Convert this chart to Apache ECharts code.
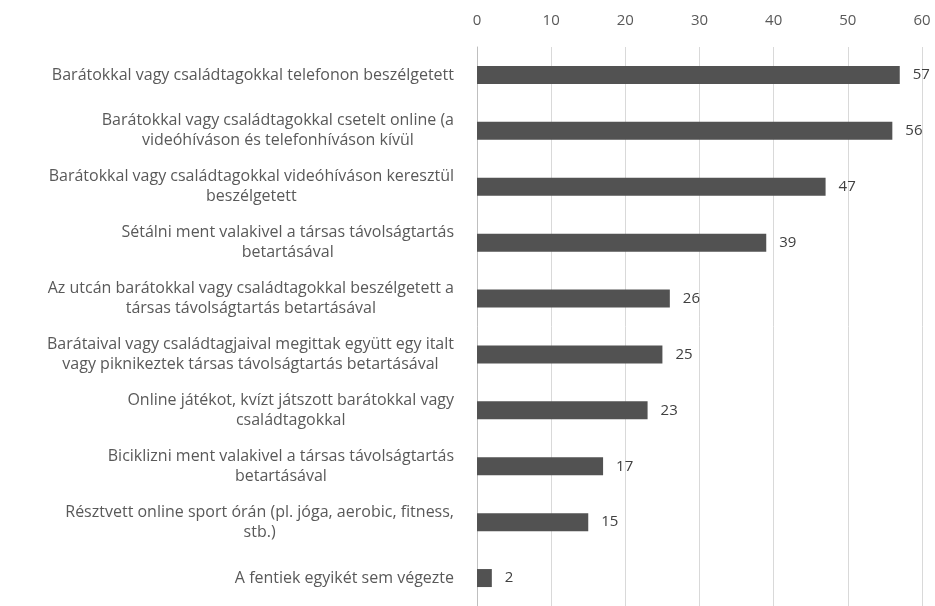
<!DOCTYPE html>
<html>
<head>
<meta charset="utf-8">
<script src="https://cdn.jsdelivr.net/npm/echarts@6/dist/echarts.min.js"></script>
<style>
html,body{margin:0;padding:0;background:#fff;}
#main{width:935px;height:606px;}
</style>
</head>
<body>
<div id="main"></div>
<script>
const categories = [
  "Barátokkal vagy családtagokkal telefonon beszélgetett",
  "Barátokkal vagy családtagokkal csetelt online (a\nvideóhíváson és telefonhíváson kívül",
  "Barátokkal vagy családtagokkal videóhíváson keresztül\nbeszélgetett",
  "Sétálni ment valakivel a társas távolságtartás\nbetartásával",
  "Az utcán barátokkal vagy családtagokkal beszélgetett a\ntársas távolságtartás betartásával",
  "Barátaival vagy családtagjaival megittak együtt egy italt\nvagy piknikeztek társas távolságtartás betartásával",
  "Online játékot, kvízt játszott barátokkal vagy\ncsaládtagokkal",
  "Biciklizni ment valakivel a társas távolságtartás\nbetartásával",
  "Résztvett online sport órán (pl. jóga, aerobic, fitness,\nstb.)",
  "A fentiek egyikét sem végezte"
];
const values = [57, 56, 47, 39, 26, 25, 23, 17, 15, 2];
const xTicks = [0, 10, 20, 30, 40, 50, 60];

const chart = echarts.init(document.getElementById('main'), null, {renderer: 'canvas'});
const font = "'Open Sans', 'Liberation Sans', sans-serif";
chart.setOption({
  animation: false,
  backgroundColor: '#fff',
  grid: {left: 477, top: 47, width: 445, height: 562, containLabel: false},
  xAxis: {
    type: 'value', position: 'top',
    min: xTicks[0], max: xTicks[xTicks.length - 1], interval: 10,
    axisLine: {show: false}, axisTick: {show: false},
    splitLine: {show: true, lineStyle: {color: '#d9d9d9', width: 1}},
    axisLabel: {color: '#595959', fontSize: 15, fontFamily: font, margin: 19}
  },
  yAxis: {
    type: 'category', data: categories, inverse: true,
    axisLine: {show: true, lineStyle: {color: '#bfbfbf', width: 1}},
    axisTick: {show: false},
    axisLabel: {
      margin: 23, align: 'right',
      formatter: function (v) {
        return v.split('\n').map(function (l) { return '{a|' + l + '}'; }).join('\n');
      },
      rich: {a: {align: 'center', color: '#595959', fontSize: 16, fontFamily: font, lineHeight: 20}}
    }
  },
  series: [{
    type: 'bar', data: values, barWidth: 18,
    itemStyle: {color: '#525252'},
    label: {show: true, position: 'right', distance: 13, color: '#404040', fontSize: 15, fontFamily: font}
  }]
});
</script>
</body>
</html>
